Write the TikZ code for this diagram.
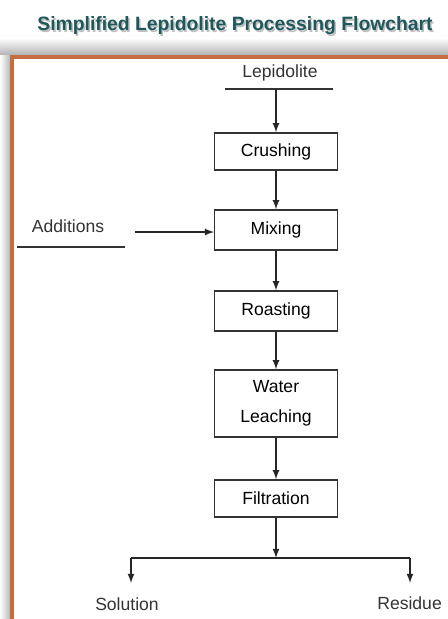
\documentclass[tikz,border=0pt]{standalone}
\usepackage{fontspec}
\setmainfont{Liberation Sans}
\usetikzlibrary{arrows,positioning}
\definecolor{titleteal}{RGB}{30,88,92}
\definecolor{frameorange}{RGB}{196,110,66}

\begin{document}
\begin{tikzpicture}[x=0.02cm,y=-0.02cm]
\tikzstyle{stepbox}=[draw=black!80,thick,rectangle,minimum width=2.45cm,font=\fontsize{10}{12}\selectfont,align=center,inner sep=0pt]
\tikzstyle{arrow}=[thick,->,>=latex,black!85]
\tikzstyle{plain}=[font=\fontsize{10}{12}\selectfont,text=black!80]
\useasboundingbox (0,0) rectangle (448,619);
% frame with its shadow
\shade [top color=white,bottom color=black!30] (0,38) rectangle (448,55);
\shade [left color=white,right color=black!30] (0,55) rectangle (11,619);
\draw [frameorange,line width=2.5pt] (12,619) -- (12,57) -- (448,57);
\node [font=\bfseries\fontsize{11}{13}\selectfont,text=black!25] at (236.5,27.5) (shadow) {Simplified Lepidolite Processing Flowchart};
\node [font=\bfseries\fontsize{11}{13}\selectfont,text=titleteal] at (235,26) (title) {Simplified Lepidolite Processing Flowchart};
% feed and steps
\node [plain] at (280,73) (lepidolite) {Lepidolite};
\coordinate (lepl) at (225,89);
\coordinate (lepr) at (333,89);
\coordinate (lepm) at (276,89);
\node [stepbox,minimum height=0.74cm] at (276,151.5) (crushing) {Crushing};
\node [stepbox,minimum height=0.8cm] at (276,230) (mixing) {Mixing};
\node [stepbox,minimum height=0.8cm] at (276,311) (roasting) {Roasting};
\node [stepbox,minimum height=1.34cm] at (276,403.5) (leaching) {Water\\[5pt]Leaching};
\node [stepbox,minimum height=0.74cm] at (276,498.5) (filtration) {Filtration};
\node [plain] at (68,226) (additions) {Additions};
\coordinate (addl) at (17,247);
\coordinate (addr) at (125,247);
\coordinate (addin) at (135,232);
\coordinate (split) at (276,558);
\coordinate (solsplit) at (131,558);
\coordinate (ressplit) at (410,558);
\node [plain] at (127,604) (solution) {Solution};
\node [plain,anchor=east] at (448,603) (residue) {Residue};
% connectors
\draw [thick,black!80] (lepl) -- (lepr);
\draw [thick,black!80] (addl) -- (addr);
\draw [arrow] (lepm) -- (crushing);
\draw [arrow] (crushing) -- (mixing);
\draw [arrow] (addin) -- (addin -| mixing.west);
\draw [arrow] (mixing) -- (roasting);
\draw [arrow] (roasting) -- (leaching);
\draw [arrow] (leaching) -- (filtration);
\draw [arrow] (filtration) -- (split);
\draw [thick,black!85] (solsplit) -- (ressplit);
\draw [arrow] (solsplit) -- ++(0,25);
\draw [arrow] (ressplit) -- ++(0,25);
\end{tikzpicture}
\end{document}
